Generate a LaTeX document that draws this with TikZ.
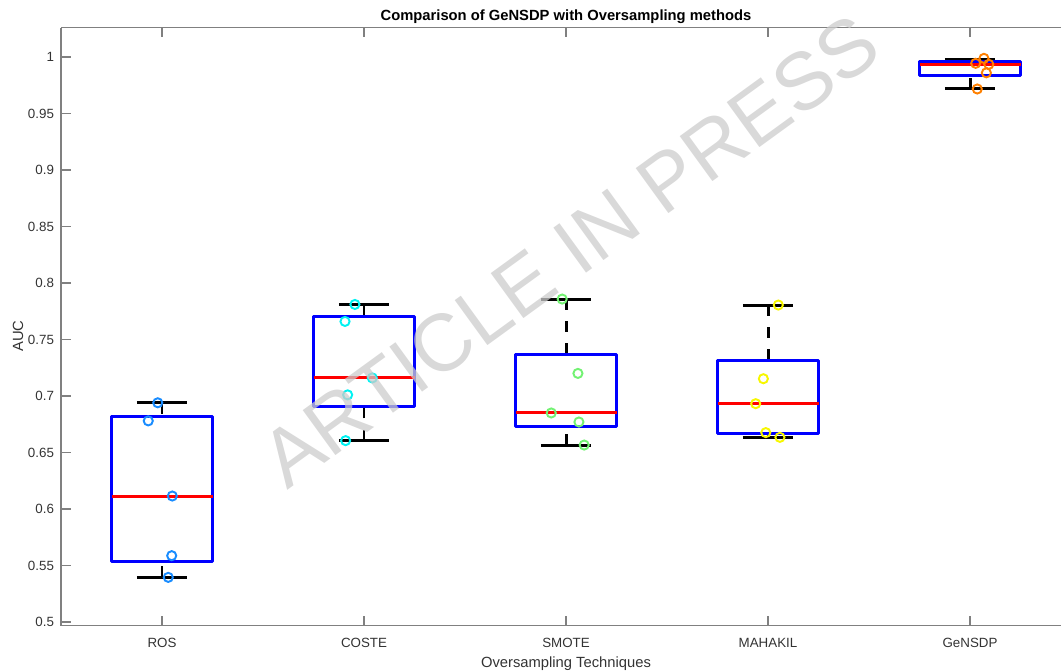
\documentclass[tikz,border=0pt]{standalone}
\usepackage{fontspec}
\setmainfont{Liberation Sans}

\definecolor{rosblue}{rgb}{0.1,0.55,1}
\definecolor{costecyan}{rgb}{0,0.95,0.95}
\definecolor{smotegreen}{rgb}{0.45,0.95,0.45}
\definecolor{mahakilyellow}{rgb}{0.97,0.97,0}
\definecolor{gensdporange}{rgb}{1,0.5,0}
\definecolor{axisgray}{rgb}{0.5,0.5,0.5}
\definecolor{labelgray}{rgb}{0.2,0.2,0.2}
\definecolor{stampgray}{rgb}{0.8,0.8,0.8}

\tikzset{
    iqrbox/.style={draw=blue, line width=1.7pt, line join=round},
    median/.style={red, line width=1.7pt},
    whisk/.style={black, line width=1.7pt, dash pattern=on 6.3pt off 6.3pt},
    capline/.style={black, line width=1.7pt},
    obs/.style={line width=1.1pt},
    axisline/.style={axisgray, line width=0.6pt},
    yticklab/.style={anchor=east, inner sep=0pt, xshift=-0.13cm, text=labelgray, font=\fontsize{7.6}{9}\selectfont},
    xticklab/.style={anchor=base, inner sep=0pt, yshift=-0.44cm, text=labelgray, font=\fontsize{7.6}{9}\selectfont},
    axlabel/.style={inner sep=0pt, text=labelgray, font=\fontsize{8.4}{10}\selectfont},
    watermark/.style={text=stampgray, opacity=0.75, inner sep=0pt, font=\fontsize{46}{50}\selectfont}
}

\begin{document}
\begin{tikzpicture}
    \useasboundingbox (0,0) rectangle (21.22,-13.42);
    \clip (0,0) rectangle (21.22,-13.42);

    % Title and axis labels
    \node[anchor=base, inner sep=0pt, font=\bfseries\fontsize{8.4}{10}\selectfont] (title) at (11.32,-0.40) {Comparison of GeNSDP with Oversampling methods};
    \node[axlabel, anchor=base] (xlab) at (11.32,-13.34) {Oversampling Techniques};
    \node[axlabel, rotate=90] (ylab) at (0.36,-6.72) {AUC};

    % data coordinates: x = group, y = AUC
    \begin{scope}[shift={(-0.8,-23.74)}, x=4.04cm, y=22.6cm]
        % Axes frame
        \draw[axisline] (0.5,1.0257) -- (0.5,0.4973) -- (5.5,0.4973);
        \draw[axisline] (0.5,1.0257) -- (5.5,1.0257);

        % y ticks
        \draw[axisline] (0.5,0.50) node[yticklab] (t050) {0.5} -- ++(0.2cm,0);
        \draw[axisline] (0.5,0.55) node[yticklab] (t055) {0.55} -- ++(0.2cm,0);
        \draw[axisline] (0.5,0.60) node[yticklab] (t060) {0.6} -- ++(0.2cm,0);
        \draw[axisline] (0.5,0.65) node[yticklab] (t065) {0.65} -- ++(0.2cm,0);
        \draw[axisline] (0.5,0.70) node[yticklab] (t070) {0.7} -- ++(0.2cm,0);
        \draw[axisline] (0.5,0.75) node[yticklab] (t075) {0.75} -- ++(0.2cm,0);
        \draw[axisline] (0.5,0.80) node[yticklab] (t080) {0.8} -- ++(0.2cm,0);
        \draw[axisline] (0.5,0.85) node[yticklab] (t085) {0.85} -- ++(0.2cm,0);
        \draw[axisline] (0.5,0.90) node[yticklab] (t090) {0.9} -- ++(0.2cm,0);
        \draw[axisline] (0.5,0.95) node[yticklab] (t095) {0.95} -- ++(0.2cm,0);
        \draw[axisline] (0.5,1.00) node[yticklab] (t100) {1} -- ++(0.2cm,0);

        % x ticks (bottom with labels, top plain)
        \draw[axisline] (1,0.4973) node[xticklab] (ros) {ROS} -- ++(0,0.18cm);
        \draw[axisline] (2,0.4973) node[xticklab] (coste) {COSTE} -- ++(0,0.18cm);
        \draw[axisline] (3,0.4973) node[xticklab] (smote) {SMOTE} -- ++(0,0.18cm);
        \draw[axisline] (4,0.4973) node[xticklab] (mahakil) {MAHAKIL} -- ++(0,0.18cm);
        \draw[axisline] (5,0.4973) node[xticklab] (gensdp) {GeNSDP} -- ++(0,0.18cm);
        \draw[axisline] (1,1.0257) -- ++(0,-0.18cm);
        \draw[axisline] (2,1.0257) -- ++(0,-0.18cm);
        \draw[axisline] (3,1.0257) -- ++(0,-0.18cm);
        \draw[axisline] (4,1.0257) -- ++(0,-0.18cm);
        \draw[axisline] (5,1.0257) -- ++(0,-0.18cm);

        % ROS
        \draw[whisk] (1,0.6940) -- (1,0.6820);
        \draw[whisk] (1,0.5395) -- (1,0.5537);
        \draw[capline] (0.875,0.6940) -- (1.125,0.6940);
        \draw[capline] (0.875,0.5395) -- (1.125,0.5395);
        \draw[iqrbox] (0.75,0.5537) rectangle (1.25,0.6820);
        \draw[median] (0.75,0.6115) -- (1.25,0.6115);
        \draw[obs, rosblue] (0.979,0.6940) circle (2.6pt);
        \draw[obs, rosblue] (0.932,0.6780) circle (2.6pt);
        \draw[obs, rosblue] (1.051,0.6115) circle (2.6pt);
        \draw[obs, rosblue] (1.048,0.5587) circle (2.6pt);
        \draw[obs, rosblue] (1.031,0.5395) circle (2.6pt);

        % COSTE
        \draw[whisk] (2,0.7810) -- (2,0.7700);
        \draw[whisk] (2,0.6605) -- (2,0.6910);
        \draw[capline] (1.875,0.7810) -- (2.125,0.7810);
        \draw[capline] (1.875,0.6605) -- (2.125,0.6605);
        \draw[iqrbox] (1.75,0.6910) rectangle (2.25,0.7700);
        \draw[median] (1.75,0.7160) -- (2.25,0.7160);
        \draw[obs, costecyan] (1.955,0.7810) circle (2.6pt);
        \draw[obs, costecyan] (1.906,0.7660) circle (2.6pt);
        \draw[obs, costecyan] (2.041,0.7160) circle (2.6pt);
        \draw[obs, costecyan] (1.919,0.7010) circle (2.6pt);
        \draw[obs, costecyan] (1.909,0.6605) circle (2.6pt);

        % SMOTE
        \draw[whisk] (3,0.7858) -- (3,0.7363);
        \draw[whisk] (3,0.6566) -- (3,0.6730);
        \draw[capline] (2.875,0.7858) -- (3.125,0.7858);
        \draw[capline] (2.875,0.6566) -- (3.125,0.6566);
        \draw[iqrbox] (2.75,0.6730) rectangle (3.25,0.7363);
        \draw[median] (2.75,0.6850) -- (3.25,0.6850);
        \draw[obs, smotegreen] (2.981,0.7858) circle (2.6pt);
        \draw[obs, smotegreen] (3.059,0.7200) circle (2.6pt);
        \draw[obs, smotegreen] (2.927,0.6850) circle (2.6pt);
        \draw[obs, smotegreen] (3.064,0.6770) circle (2.6pt);
        \draw[obs, smotegreen] (3.090,0.6566) circle (2.6pt);

        % MAHAKIL
        \draw[whisk] (4,0.7805) -- (4,0.7318);
        \draw[whisk] (4,0.6630) -- (4,0.6664);
        \draw[capline] (3.875,0.7805) -- (4.125,0.7805);
        \draw[capline] (3.875,0.6630) -- (4.125,0.6630);
        \draw[iqrbox] (3.75,0.6664) rectangle (4.25,0.7318);
        \draw[median] (3.75,0.6932) -- (4.25,0.6932);
        \draw[obs, mahakilyellow] (4.051,0.7805) circle (2.6pt);
        \draw[obs, mahakilyellow] (3.977,0.7153) circle (2.6pt);
        \draw[obs, mahakilyellow] (3.939,0.6932) circle (2.6pt);
        \draw[obs, mahakilyellow] (3.989,0.6676) circle (2.6pt);
        \draw[obs, mahakilyellow] (4.059,0.6634) circle (2.6pt);

        % GeNSDP
        \draw[whisk] (5,0.9980) -- (5,0.9956);
        \draw[whisk] (5,0.9717) -- (5,0.9832);
        \draw[capline] (4.875,0.9980) -- (5.125,0.9980);
        \draw[capline] (4.875,0.9717) -- (5.125,0.9717);
        \draw[iqrbox] (4.75,0.9832) rectangle (5.25,0.9956);
        \draw[median] (4.75,0.9932) -- (5.25,0.9932);
        \draw[obs, gensdporange] (5.028,0.9944) circle (2.6pt);
        \draw[obs, gensdporange] (5.069,0.9988) circle (2.6pt);
        \draw[obs, gensdporange] (5.093,0.9935) circle (2.6pt);
        \draw[obs, gensdporange] (5.081,0.9860) circle (2.6pt);
        \draw[obs, gensdporange] (5.036,0.9717) circle (2.6pt);
    \end{scope}

    % stamp across the plot
    \node[watermark, rotate=36] (stamp) at (11.40,-5.02) {ARTICLE IN PRESS};
\end{tikzpicture}
\end{document}
